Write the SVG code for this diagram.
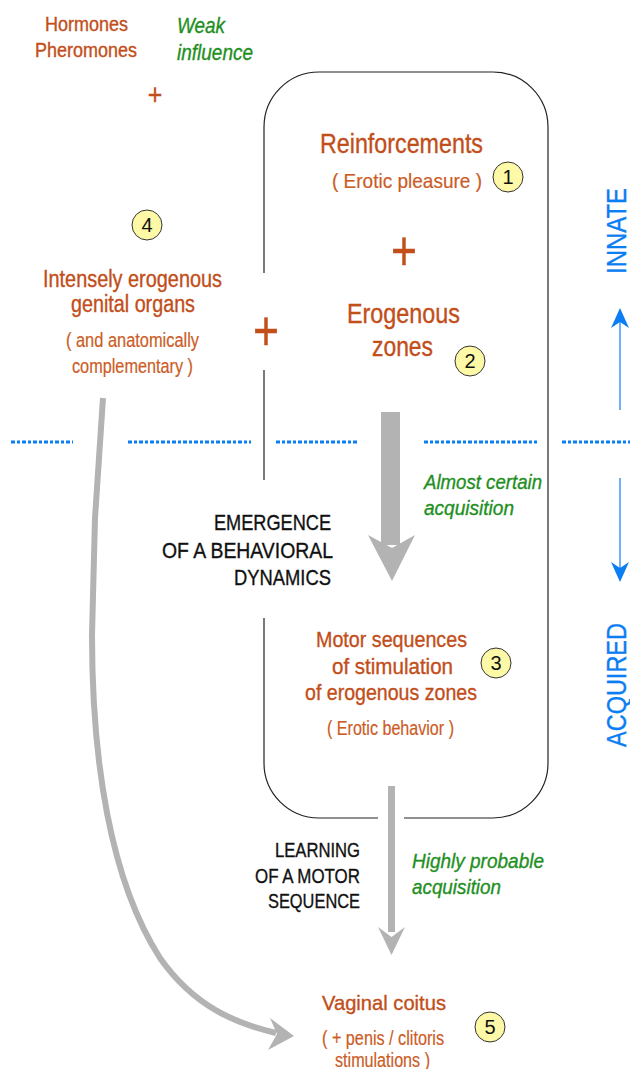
<svg xmlns="http://www.w3.org/2000/svg" width="630" height="1069" viewBox="0 0 630 1069">
<style>
text{font-family:"Liberation Sans Narrow","Arial Narrow","Liberation Sans",Arial,sans-serif;stroke-width:0.35}
.o{fill:#c24e1a;stroke:#c24e1a}
.os{fill:#cc5c26;stroke:#cc5c26;stroke-width:0.2}
.g{fill:#1f8f1f;stroke:#1f8f1f;font-style:italic}
.k{fill:#111;stroke:#111}
.b{fill:#0a7ef2;stroke:#0a7ef2}
.c{fill:#fdf9a6;stroke:#333;stroke-width:1}
.n{fill:#111;font-size:20px;text-anchor:middle}
.m{text-anchor:middle}
.e{text-anchor:end}
.frame{fill:none;stroke:#222;stroke-width:1.2}
.gray{fill:#b3b3b3}
.grayl{fill:none;stroke:#b3b3b3;stroke-width:6}
.blue{fill:#0a7ef2}
.bluel{stroke:#4a9ef5;stroke-width:1.6}
.dots{stroke:#0a7ef2;stroke-width:3;stroke-dasharray:4 2 3 2}
</style>

<g id="frame">
<path class="frame" d="M264,273 V127 A55,55 0 0 1 319,72 H493 A55,55 0 0 1 548,127 V763 A55,55 0 0 1 493,818 H404"/>
<path class="frame" d="M378,818 H319 A55,55 0 0 1 264,763 V618"/>
<path class="frame" d="M264,370 V480"/>
</g>

<g id="divider">
<line class="dots" x1="11" y1="442" x2="73" y2="442"/>
<line class="dots" x1="128" y1="442" x2="251" y2="442"/>
<line class="dots" x1="276" y1="442" x2="357" y2="442"/>
<line class="dots" x1="424" y1="442" x2="537" y2="442"/>
<line class="dots" x1="562" y1="442" x2="630" y2="442"/>
</g>

<g id="connectors">
<rect class="gray" x="381" y="412" width="19" height="133"/>
<polygon class="gray" points="368,535 392,548 415,535 392,581"/>
<rect class="gray" x="388" y="786" width="7" height="146"/>
<polygon class="gray" points="378,927 391.5,937 405,927 391.5,955"/>
<path class="grayl" d="M103,398 L95,518 L92,635 C92,760 110,880 160,958 C195,1008 238,1024 276,1033"/>
<polygon class="gray" points="270,1018 294,1036 268,1050 277,1034"/>
<line class="bluel" x1="620" y1="322" x2="620" y2="410"/>
<polygon class="blue" points="620,308 629,328 620,322 611,328"/>
<line class="bluel" x1="620" y1="478" x2="620" y2="568"/>
<polygon class="blue" points="620,582 629,562 620,568 611,562"/>
</g>

<g id="hormones">
<text class="o m" x="86.5" y="31" font-size="20" textLength="83" lengthAdjust="spacingAndGlyphs">Hormones</text>
<text class="o m" x="86" y="57" font-size="20" textLength="102" lengthAdjust="spacingAndGlyphs">Pheromones</text>
</g>
<g id="weak-influence">
<text class="g" x="177" y="33" font-size="22" textLength="48" lengthAdjust="spacingAndGlyphs">Weak</text>
<text class="g" x="177" y="60" font-size="22" textLength="76" lengthAdjust="spacingAndGlyphs">influence</text>
</g>
<g id="plus-small">
<text class="o m" x="155" y="105" font-size="30" textLength="14.6" lengthAdjust="spacingAndGlyphs">+</text>
</g>

<g id="reinforcements">
<text class="o m" x="401.5" y="153" font-size="28" textLength="163" lengthAdjust="spacingAndGlyphs">Reinforcements</text>
<text class="os m" x="407" y="188" font-size="21" textLength="150" lengthAdjust="spacingAndGlyphs">( Erotic pleasure )</text>
<circle class="c" cx="508" cy="177" r="15"/>
<text class="n" x="508" y="184">1</text>
</g>
<g id="plus-center">
<text class="o m" x="404" y="270" font-size="56" textLength="26" lengthAdjust="spacingAndGlyphs">+</text>
</g>
<g id="erogenous-zones">
<text class="o m" x="403.5" y="323" font-size="27" textLength="113" lengthAdjust="spacingAndGlyphs">Erogenous</text>
<text class="o m" x="402.5" y="356" font-size="27" textLength="61" lengthAdjust="spacingAndGlyphs">zones</text>
<circle class="c" cx="470" cy="361" r="15"/>
<text class="n" x="470" y="368">2</text>
</g>
<g id="plus-left">
<text class="o m" x="266" y="350" font-size="56" textLength="26" lengthAdjust="spacingAndGlyphs">+</text>
</g>

<g id="genital-organs">
<circle class="c" cx="147" cy="225" r="15"/>
<text class="n" x="147" y="232">4</text>
<text class="o m" x="132.5" y="287" font-size="23" textLength="179" lengthAdjust="spacingAndGlyphs">Intensely erogenous</text>
<text class="o m" x="133" y="312" font-size="23" textLength="124" lengthAdjust="spacingAndGlyphs">genital organs</text>
<text class="os m" x="132.5" y="347" font-size="20" textLength="133" lengthAdjust="spacingAndGlyphs">( and anatomically</text>
<text class="os m" x="132.5" y="373" font-size="20" textLength="121" lengthAdjust="spacingAndGlyphs">complementary )</text>
</g>

<g id="almost-certain">
<text class="g" x="424" y="489" font-size="21" textLength="118" lengthAdjust="spacingAndGlyphs">Almost certain</text>
<text class="g" x="424" y="515" font-size="21" textLength="90" lengthAdjust="spacingAndGlyphs">acquisition</text>
</g>
<g id="emergence">
<text class="k e" x="331" y="530" font-size="22" textLength="117" lengthAdjust="spacingAndGlyphs">EMERGENCE</text>
<text class="k e" x="333" y="558" font-size="22" textLength="171" lengthAdjust="spacingAndGlyphs">OF A BEHAVIORAL</text>
<text class="k e" x="331" y="585" font-size="22" textLength="97" lengthAdjust="spacingAndGlyphs">DYNAMICS</text>
</g>

<g id="motor-sequences">
<text class="o m" x="391.5" y="647" font-size="22" textLength="151" lengthAdjust="spacingAndGlyphs">Motor sequences</text>
<text class="o m" x="392.5" y="674" font-size="22" textLength="121" lengthAdjust="spacingAndGlyphs">of stimulation</text>
<text class="o m" x="391" y="700" font-size="22" textLength="172" lengthAdjust="spacingAndGlyphs">of erogenous zones</text>
<text class="os m" x="390.5" y="735" font-size="20" textLength="127" lengthAdjust="spacingAndGlyphs">( Erotic behavior )</text>
<circle class="c" cx="496" cy="663" r="15"/>
<text class="n" x="496" y="670">3</text>
</g>

<g id="learning">
<text class="k e" x="360" y="857" font-size="21" textLength="85" lengthAdjust="spacingAndGlyphs">LEARNING</text>
<text class="k e" x="360" y="883" font-size="21" textLength="105" lengthAdjust="spacingAndGlyphs">OF A MOTOR</text>
<text class="k e" x="360" y="908" font-size="21" textLength="92" lengthAdjust="spacingAndGlyphs">SEQUENCE</text>
</g>
<g id="highly-probable">
<text class="g" x="412" y="868" font-size="21" textLength="132" lengthAdjust="spacingAndGlyphs">Highly probable</text>
<text class="g" x="412" y="894" font-size="21" textLength="89" lengthAdjust="spacingAndGlyphs">acquisition</text>
</g>

<g id="vaginal-coitus">
<text class="o m" x="384" y="1010" font-size="21" textLength="124" lengthAdjust="spacingAndGlyphs">Vaginal coitus</text>
<text class="os m" x="383" y="1045" font-size="20" textLength="122" lengthAdjust="spacingAndGlyphs">( + penis / clitoris</text>
<text class="os m" x="382.5" y="1067" font-size="20" textLength="95" lengthAdjust="spacingAndGlyphs">stimulations )</text>
<circle class="c" cx="490" cy="1027" r="15"/>
<text class="n" x="490" y="1034">5</text>
</g>

<g id="innate">
<text class="b m" transform="translate(626,231) rotate(-90)" font-size="28" textLength="86" lengthAdjust="spacingAndGlyphs">INNATE</text>
</g>
<g id="acquired">
<text class="b m" transform="translate(626,685) rotate(-90)" font-size="28" textLength="124" lengthAdjust="spacingAndGlyphs">ACQUIRED</text>
</g>
</svg>
